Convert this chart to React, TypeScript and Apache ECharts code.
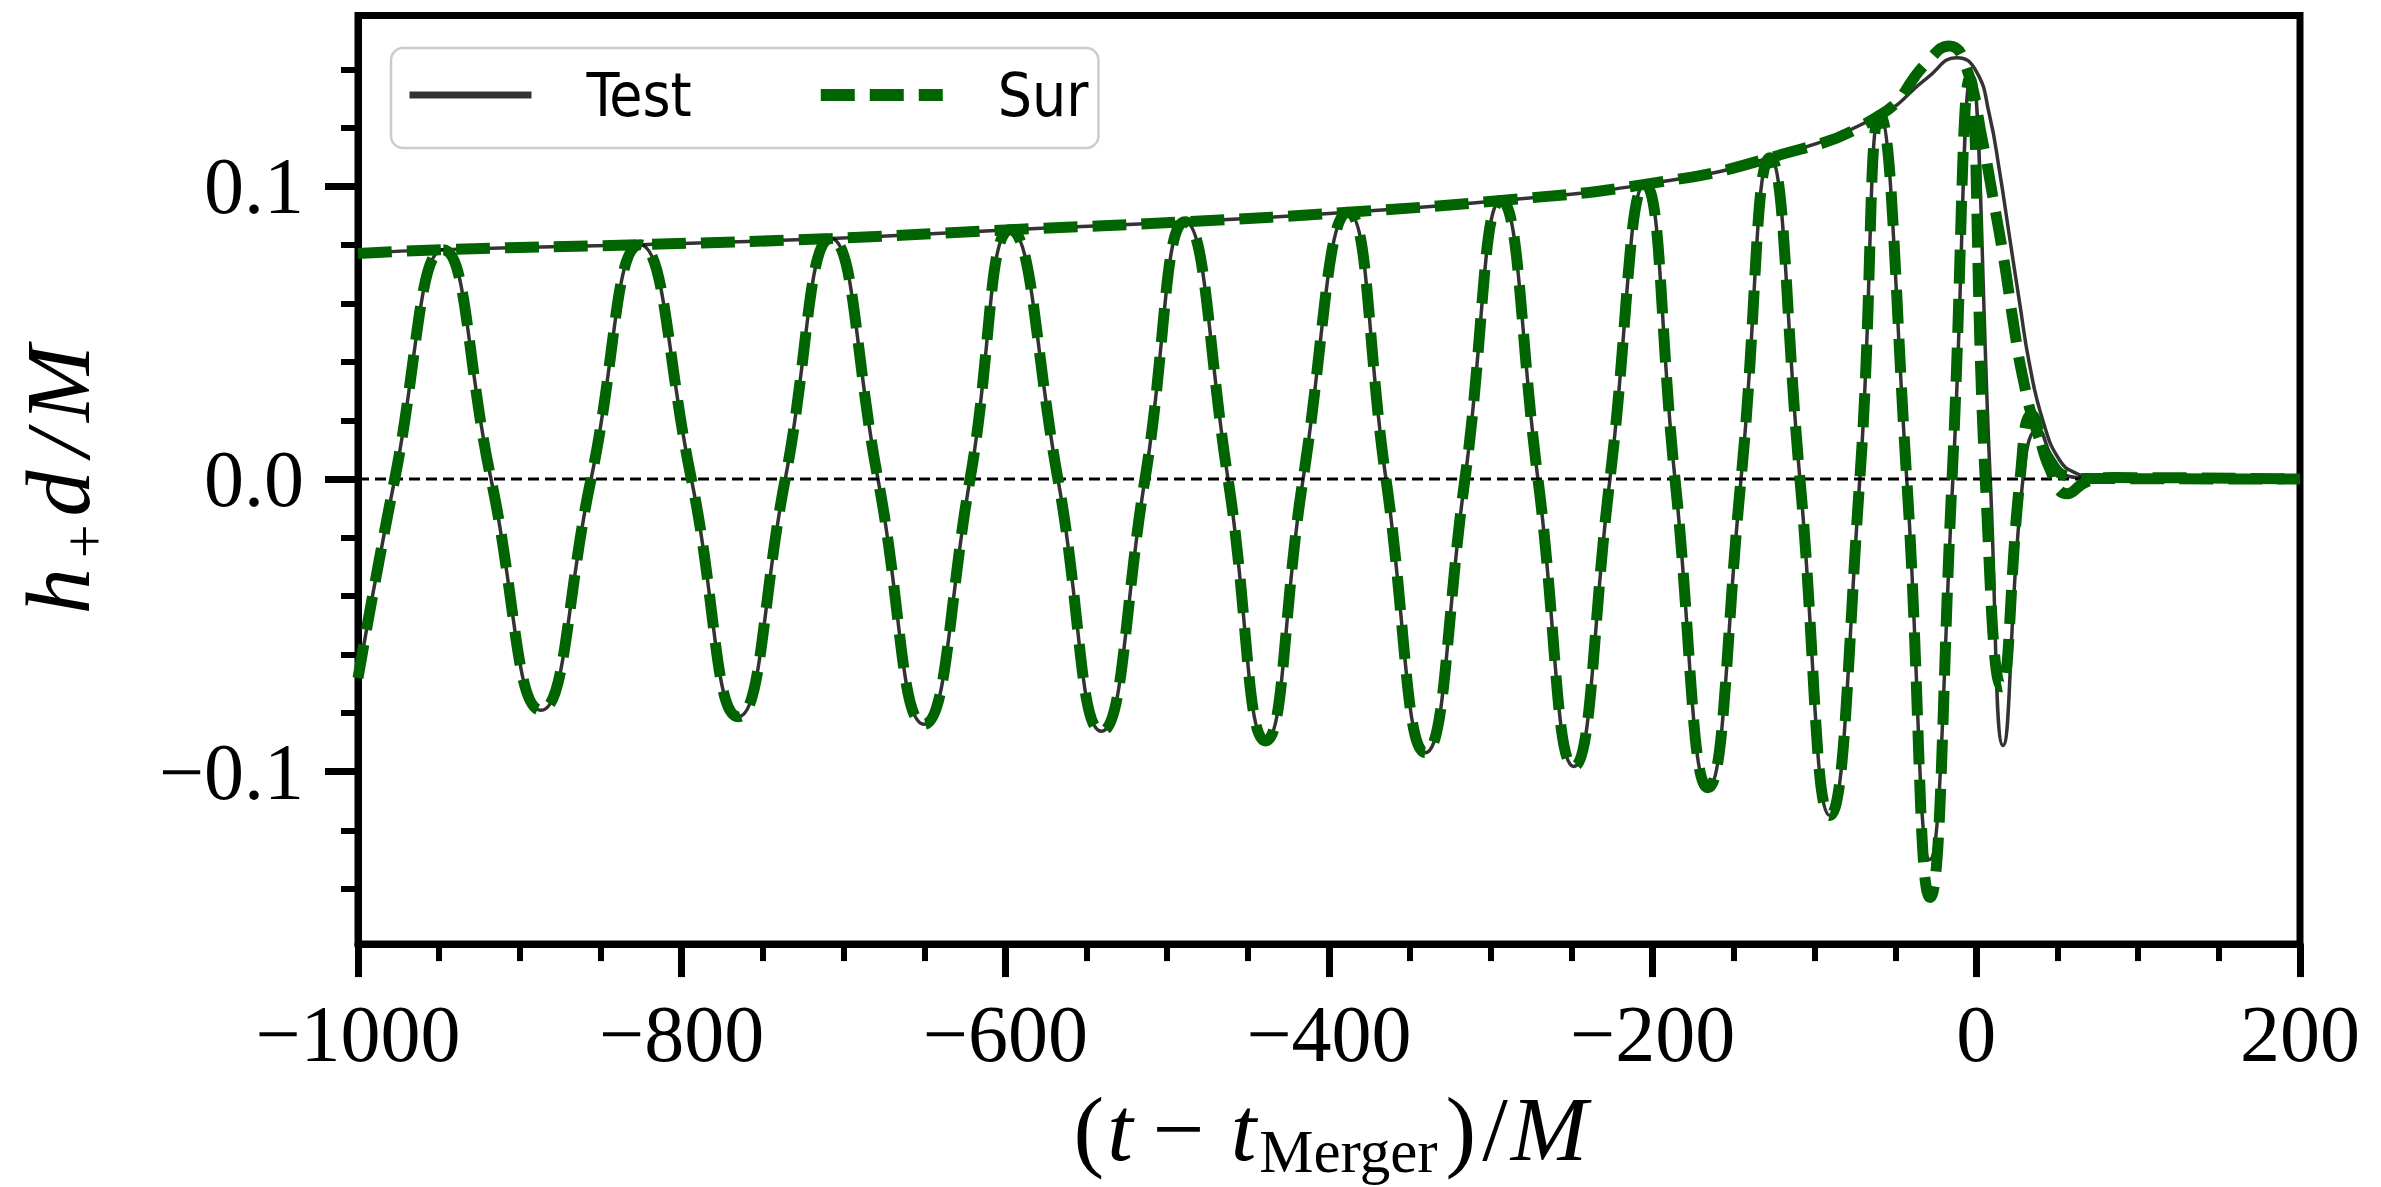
import React, { useEffect, useRef } from 'react';
import * as echarts from 'echarts';

// ---------- data ----------
const xTickValues = [-1000, -800, -600, -400, -200, 0, 200];
const yTickValues = [-0.1, 0, 0.1];
const yMinorTickValues = [-0.14, -0.12, -0.08, -0.06, -0.04, -0.02, 0.02, 0.04, 0.06, 0.08, 0.12, 0.14];

// inspiral part of h+ (shared by Test and Sur): zero crossings, peaks and troughs
const inspiralT = [
  -1000, -977.3, -947.5, -917.8, -886.9, -856, -825.7, -794, -765, -736,
  -707.7, -678.7, -650.3, -621.8, -597, -567.5, -540.6, -513.7, -489, -462.4,
  -439.2, -416, -388.3, -364.8, -340.4, -316, -293.7, -270.9, -248.7, -226.4,
  -204.8, -186.2, -165.8, -145.4, -127.5, -109, -90.5, -72, -59.6, -43,
];
const inspiralH = [
  -0.068, 0, 0.0784, 0, -0.079, 0, 0.0801, 0, -0.0812, 0,
  0.0822, 0, -0.0838, 0, 0.0852, 0, -0.0862, 0, 0.0879, 0,
  -0.0895, 0, 0.0912, 0, -0.0935, 0, 0.0952, 0, -0.0982, 0,
  0.1007, 0, -0.1055, 0, 0.1098, 0, -0.115, 0, 0.1243, 0,
];

// merger / ringdown of h+
const testTailT = [-28.8, -14.5, -3, 8.6, 16.5, 28.8, 38, 50, 62, 80, 200];
const testTailH = [-0.13, 0, 0.138, 0, -0.091, 0, 0.017, 0.004, 0.0005, 0, 0];
const surTailT = [-28.6, -15, -4, 5.5, 15.6, 27, 34, 45, 56, 68, 85, 200];
const surTailH = [-0.143, 0, 0.137, 0, -0.071, 0, 0.022, 0.004, -0.005, -0.001, 0.0005, 0];

// amplitude envelopes
const testAmpT = [-1000, -947.5, -825.7, -707.7, -597, -489, -388.3, -293.7, -204.8, -127.5, -59.6, -30.5, -12, -0.2, 8.1, 14.3, 20.5, 26.7, 32.9, 41.1, 51.4, 61.7, 75, 200];
const testAmpA = [0.0771, 0.0784, 0.0801, 0.0822, 0.0852, 0.0879, 0.0912, 0.0952, 0.1007, 0.1098, 0.1243, 0.137, 0.144, 0.1395, 0.1244, 0.1053, 0.0828, 0.0604, 0.0391, 0.02, 0.0065, 0.002, 0.0003, 0];
const surAmpT = [-1000, -947.5, -825.7, -707.7, -597, -489, -388.3, -293.7, -204.8, -127.5, -59.6, -30.5, -16.6, -6.5, 4, 10, 17, 23, 29, 37, 46, 56, 70, 200];
const surAmpA = [0.0771, 0.0784, 0.0801, 0.0822, 0.0852, 0.0879, 0.0912, 0.0952, 0.1007, 0.1098, 0.1243, 0.1424, 0.148, 0.1412, 0.115, 0.097, 0.075, 0.053, 0.034, 0.017, 0.006, 0.001, 0.0002, 0];

const zeroLineT = [-1000, 200];
const zeroLineV = [0, 0];

const X_MIN = -1000;
const X_MAX = 200;
const Y_MIN = -0.1589;
const Y_MAX = 0.1584;

// ---------- styling ----------
const FONT_SERIF = "'Liberation Serif', 'DejaVu Serif', serif";
const FONT_LEGEND = "'Liberation Sans Narrow', 'DejaVu Sans Condensed', 'Liberation Sans', sans-serif";
const TEST_COLOR = 'rgba(0,0,0,0.8)';
const SUR_COLOR = '#006400';

const zip = (t: number[], v: number[]) => t.map((x, i) => [x, v[i]]);
const fmt = (v: number, d: number) => (v < 0 ? '\u2212' : '') + Math.abs(v).toFixed(d);

export default function App() {
  const ref = useRef<HTMLDivElement>(null);

  useEffect(() => {
    document.body.style.margin = '0';
    if (!ref.current) return;
    const chart = echarts.init(ref.current, undefined, { renderer: 'svg' });

    const testH = zip([...inspiralT, ...testTailT], [...inspiralH, ...testTailH]);
    const surH = zip([...inspiralT, ...surTailT], [...inspiralH, ...surTailH]);
    const testAmp = zip(testAmpT, testAmpA);
    const surAmp = zip(surAmpT, surAmpA);

    const mainTok = { fontFamily: FONT_SERIF, fontSize: 92, lineHeight: 100, color: '#000' };
    const italTok = { ...mainTok, fontStyle: 'italic' };

    const testLine = { color: TEST_COLOR, width: 3.5, type: 'solid' };
    const surLine = { color: SUR_COLOR, width: 11, type: [34, 15], cap: 'butt' };
    const hiddenSymbol = { color: 'transparent', borderColor: 'transparent', borderWidth: 0, opacity: 0 };

    const option: any = {
      animation: false,
      backgroundColor: '#ffffff',
      grid: {
        left: 358,
        right: 81,
        top: 15.5,
        bottom: 229,
        show: true,
        borderColor: '#000',
        borderWidth: 7,
        backgroundColor: 'transparent',
      },
      legend: {
        left: 391,
        top: 48,
        orient: 'horizontal',
        padding: [13, 10, 19, 15],
        itemWidth: 122,
        itemHeight: 2,
        itemGap: 123,
        selectedMode: false,
        backgroundColor: 'rgba(255,255,255,0.85)',
        borderColor: '#cccccc',
        borderWidth: 2.5,
        borderRadius: 12,
        textStyle: {
          fontFamily: FONT_LEGEND,
          fontSize: 60,
          lineHeight: 68,
          color: '#000',
          padding: [0, 0, 0, 50],
        },
        data: [
          { name: 'Test', lineStyle: { width: 7 }, itemStyle: hiddenSymbol },
          { name: 'Sur', lineStyle: { width: 12 }, itemStyle: hiddenSymbol },
        ],
      },
      xAxis: {
        type: 'value',
        min: X_MIN,
        max: X_MAX,
        interval: 200,
        axisLine: { show: true, onZero: false, lineStyle: { color: '#000', width: 7 } },
        axisTick: { show: true, length: 33, lineStyle: { color: '#000', width: 7 } },
        minorTick: { show: true, splitNumber: 4, length: 17, lineStyle: { color: '#000', width: 6 } },
        splitLine: { show: false },
        minorSplitLine: { show: false },
        axisLabel: {
          show: true,
          margin: 50,
          fontSize: 80,
          fontFamily: FONT_SERIF,
          color: '#000',
          showMinLabel: true,
          showMaxLabel: true,
          hideOverlap: false,
          formatter: (v: number) => (xTickValues.includes(v) ? fmt(v, 0) : ''),
        },
        name: '{n|(}{i|t}{m|\u2212}{i|t}{s|Merger}{c|)}{n|/}{i|M}',
        nameLocation: 'middle',
        nameGap: 123,
        nameTextStyle: {
          ...mainTok,
          rich: {
            n: { ...mainTok, padding: [0, 3, 0, 3] },
            c: { ...mainTok, padding: [0, 3, 0, 8] },
            i: italTok,
            m: { ...mainTok, padding: [0, 26, 0, 20] },
            s: { fontFamily: FONT_SERIF, fontSize: 61, lineHeight: 61, color: '#000', verticalAlign: 'bottom', padding: [0, 0, -3, 3] },
          },
        },
      },
      yAxis: [
        {
          type: 'value',
          min: Y_MIN,
          max: Y_MAX,
          axisLine: { show: true, onZero: false, lineStyle: { color: '#000', width: 7 } },
          axisTick: { show: true, length: 33, customValues: yTickValues, lineStyle: { color: '#000', width: 7 } },
          splitLine: { show: false },
          axisLabel: {
            show: true,
            customValues: yTickValues,
            margin: 54,
            fontSize: 80,
            fontFamily: FONT_SERIF,
            color: '#000',
            padding: [8, 0, 0, 0],
            formatter: (v: number) => fmt(v, 1),
          },
          name: '{h|h}{s|+}{d|d}{n|/}{i|M}',
          nameLocation: 'middle',
          nameRotate: 90,
          nameGap: 250,
          nameTextStyle: {
            ...mainTok,
            rich: {
              i: italTok,
              h: { ...italTok, padding: [0, 4, 0, 0] },
              d: { ...italTok, padding: [0, 5, 0, 0] },
              n: { ...italTok, padding: [0, 9, 0, 9] },
              s: { fontFamily: FONT_SERIF, fontSize: 60, lineHeight: 60, color: '#000', verticalAlign: 'bottom', padding: [0, 8, -6, 6] },
            },
          },
        },
        {
          type: 'value',
          min: Y_MIN,
          max: Y_MAX,
          position: 'left',
          offset: 0,
          axisLine: { show: false, onZero: false },
          axisTick: { show: true, length: 17, customValues: yMinorTickValues, lineStyle: { color: '#000', width: 6 } },
          axisLabel: { show: false },
          splitLine: { show: false },
        },
      ],
      series: [
        {
          name: 'zero',
          type: 'line',
          data: zip(zeroLineT, zeroLineV),
          symbol: 'none',
          showSymbol: false,
          silent: true,
          z: 1,
          lineStyle: { color: '#000', width: 3, type: [11, 6] },
        },
        {
          name: 'Test',
          type: 'line',
          data: testH,
          symbol: 'none',
          showSymbol: false,
          smooth: 0.5,
          silent: true,
          z: 2,
          itemStyle: { color: TEST_COLOR },
          lineStyle: testLine,
        },
        {
          name: 'Test',
          type: 'line',
          data: testAmp,
          symbol: 'none',
          showSymbol: false,
          smooth: 0.5,
          silent: true,
          z: 2,
          itemStyle: { color: TEST_COLOR },
          lineStyle: testLine,
        },
        {
          name: 'Sur',
          type: 'line',
          data: surH,
          symbol: 'none',
          showSymbol: false,
          smooth: 0.5,
          silent: true,
          z: 3,
          itemStyle: { color: SUR_COLOR },
          lineStyle: surLine,
        },
        {
          name: 'Sur',
          type: 'line',
          data: surAmp,
          symbol: 'none',
          showSymbol: false,
          smooth: 0.5,
          silent: true,
          z: 3,
          itemStyle: { color: SUR_COLOR },
          lineStyle: surLine,
        },
      ],
    };

    chart.setOption(option);
    return () => chart.dispose();
  }, []);

  return (
    <div
      ref={ref}
      style={{ position: 'fixed', left: 0, top: 0, width: 2381, height: 1187, background: '#fff' }}
    />
  );
}
